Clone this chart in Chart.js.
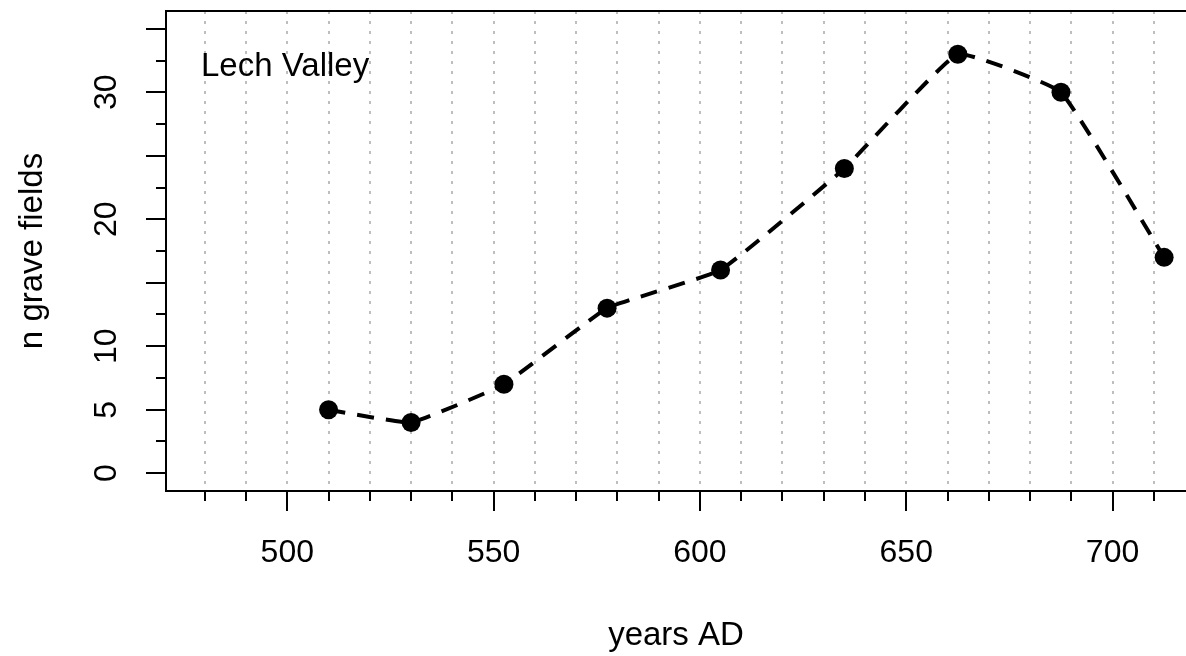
<!DOCTYPE html>
<html>
<head>
<meta charset="utf-8">
<script src="https://cdn.jsdelivr.net/npm/chart.js@4"></script>
<style>
  html, body { margin: 0; padding: 0; background: #fff; }
  #wrap { width: 1186px; height: 656px; position: relative; overflow: hidden; }
</style>
</head>
<body>
<div id="wrap"><canvas id="chart"></canvas></div>
<script>
// values
const years = [510, 530, 552.5, 577.5, 605, 635, 662.5, 687.5, 712.5];
const graveFields = [5, 4, 7, 13, 16, 24, 33, 30, 17];
const yLabelled = [0, 5, 10, 20, 30];
const xLabelled = [500, 550, 600, 650, 700];
const panelLabel = 'Lech Valley';

const FONT = '"Liberation Sans", Arial, sans-serif';

// draws the R-style frame, the short/long tick marks and the panel label
const framePlugin = {
    id: 'frame',
    afterDraw(chart) {
        const ctx = chart.ctx;
        const area = chart.chartArea;
        const xs = chart.scales.x;
        const ys = chart.scales.y;
        ctx.save();
        ctx.strokeStyle = '#000';
        ctx.lineWidth = 2;
        ctx.setLineDash([]);
        ctx.beginPath();
        ctx.moveTo(chart.width, area.top);
        ctx.lineTo(area.left, area.top);
        ctx.lineTo(area.left, area.bottom);
        ctx.lineTo(chart.width, area.bottom);
        ctx.stroke();

        ctx.beginPath();
        xs.ticks.forEach(t => {
            const px = Math.round(xs.getPixelForValue(t.value));
            const len = xLabelled.includes(t.value) ? 20 : 10;
            ctx.moveTo(px, area.bottom);
            ctx.lineTo(px, area.bottom + len);
        });
        ys.ticks.forEach(t => {
            const py = Math.round(ys.getPixelForValue(t.value));
            const len = t.value % 5 === 0 ? 20 : 10;
            ctx.moveTo(area.left, py);
            ctx.lineTo(area.left - len, py);
        });
        ctx.stroke();

        ctx.fillStyle = '#000';
        ctx.font = '33px ' + FONT;
        ctx.textBaseline = 'alphabetic';
        ctx.fillText(panelLabel, area.left + 35, area.top + 65);
        ctx.restore();
    }
};

function noPadding(s) {
    s.paddingTop = 0;
    s.paddingBottom = 0;
    s.paddingLeft = 0;
    s.paddingRight = 0;
}

new Chart(document.getElementById('chart'), {
    type: 'line',
    data: {
        datasets: [{
            data: years.map((yr, i) => ({ x: yr, y: graveFields[i] })),
            borderColor: '#000',
            borderWidth: 4,
            borderDash: [17, 12],
            tension: 0.1,
            pointRadius: 9.5,
            pointBackgroundColor: '#000',
            pointBorderColor: '#000',
            pointBorderWidth: 0,
            fill: false
        }]
    },
    options: {
        responsive: true,
        maintainAspectRatio: false,
        animation: false,
        devicePixelRatio: 1,
        layout: { autoPadding: false, padding: { top: 11, right: 0, left: 0, bottom: 0 } },
        plugins: {
            legend: { display: false },
            tooltip: { enabled: false }
        },
        scales: {
            x: {
                type: 'linear',
                min: 470.6,
                max: 717.8,
                afterFit: s => { s.height = 165; noPadding(s); },
                border: { display: false, dash: [3, 7] },
                grid: { color: '#bebebe', lineWidth: 2, drawTicks: false },
                ticks: {
                    stepSize: 10,
                    includeBounds: false,
                    autoSkip: false,
                    maxRotation: 0,
                    padding: 43,
                    color: '#000',
                    font: { family: FONT, size: 32 },
                    callback: v => xLabelled.includes(v) ? String(v) : ''
                },
                title: {
                    display: true,
                    text: 'years AD',
                    color: '#000',
                    font: { family: FONT, size: 33 },
                    padding: { top: 0, bottom: 0 }
                }
            },
            y: {
                min: -1.4,
                max: 36.4,
                afterFit: s => { s.width = 166; noPadding(s); },
                border: { display: false },
                grid: { display: false, drawTicks: false },
                ticks: {
                    stepSize: 2.5,
                    includeBounds: false,
                    autoSkip: false,
                    minRotation: 90,
                    maxRotation: 90,
                    crossAlign: 'center',
                    padding: 41,
                    color: '#000',
                    font: { family: FONT, size: 32 },
                    callback: v => yLabelled.includes(v) ? String(v) : ''
                },
                title: {
                    display: true,
                    text: 'n grave fields',
                    color: '#000',
                    font: { family: FONT, size: 33 },
                    padding: { top: 13, bottom: 0 }
                }
            }
        }
    },
    plugins: [framePlugin]
});
</script>
</body>
</html>
